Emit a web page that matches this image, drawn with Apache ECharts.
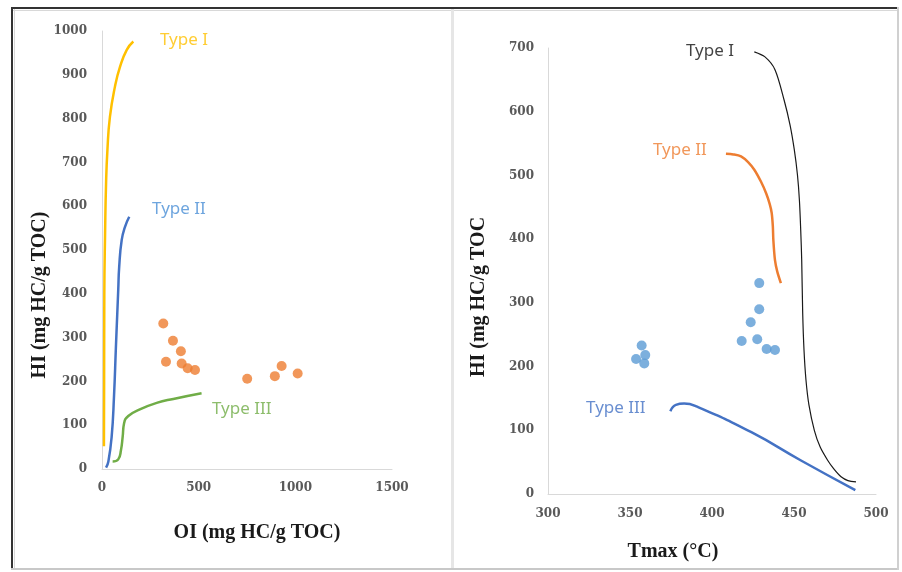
<!DOCTYPE html>
<html>
<head>
<meta charset="utf-8">
<script src="https://cdn.jsdelivr.net/npm/echarts@6/dist/echarts.min.js"></script>
<style>html,body{margin:0;padding:0;background:#fff}#c{width:902px;height:572px}</style>
</head>
<body>
<div id="c"></div>
<script>
// ---- Left panel: HI vs OI ----
const oiTicks = [0, 500, 1000, 1500];
const hiTicksLeft = [0, 100, 200, 300, 400, 500, 600, 700, 800, 900, 1000];
const oiTypeI = [[10,52],[11,200],[12,400],[16,538],[21,652],[28,728],[41,804],[67,873],[93,918],[128,957],[162,976]];
const oiTypeII = [[21,3],[33,17],[50,74],[62,165],[72,279],[79,355],[84,409],[89,462],[102,523],[119,553],[141,576]];
const oiTypeIII = [[55,17],[84,22],[98,43],[107,74],[114,104],[136,121],[196,136],[283,151],[369,160],[515,173]];
const sampleOI = [317,331,367,408,412,443,481,751,894,929,1012];
const sampleHIleft = [332,245,293,269,241,230,226,206,212,235,218];
const labelsLeft = [[300,979,'Type I'],[259,594,'Type II'],[569,137,'Type III']];

// ---- Right panel: HI vs Tmax ----
const tmaxTicks = [300, 350, 400, 450, 500];
const hiTicksRight = [0, 100, 200, 300, 400, 500, 600, 700];
const tmaxTypeI = [[425.8,694],[432.3,686],[438.4,666],[444,618],[447.6,579],[450.2,540],[452.1,501],[453.3,461],[454.1,414],[454.7,367],[455.3,284],[456.1,226],[457.3,179],[459.1,140],[462.4,100],[465.9,74],[470.5,53],[474.4,39],[478.7,27],[482.9,21],[487.8,19]];
const tmaxTypeII = [[408.5,534],[413,533],[417.7,530],[422,521],[425.8,509],[429.9,490],[433,472],[435.2,455],[436.4,441],[437.1,420],[437.4,399],[438.4,367],[439.8,349],[442,331]];
const tmaxTypeIII = [[374.6,130],[378,140],[383,142],[391,137],[424,97],[454,53],[487.4,6]];
const sampleTmax = [357.1,353.7,359.3,358.7,428.8,428.8,423.6,418.1,427.6,433.3,438.4];
const sampleHIright = [233,212,218,205,331,290,269.5,240,243,227.5,226];
const labelsRight = [[384.1,695,'Type I'],[364,540,'Type II'],[323.2,135,'Type III']];

const tickFont = {fontFamily:'DejaVu Serif', fontWeight:'bold', fontSize:12, color:'#595959',
  formatter:function(v){return String(v);}};
const nameFont = {fontFamily:'Liberation Serif', fontWeight:'bold', fontSize:20, fill:'#1a1a1a'};
const axisLine = {show:true, lineStyle:{color:'#d9d9d9', width:1}};

function zip(a,b){ return a.map((v,i)=>[v,b[i]]); }

function labelSeries(xi, labels, colors){
  return {
    type:'scatter', xAxisIndex:xi, yAxisIndex:xi, symbolSize:0, silent:true, z:5,
    data: labels.map((l,i)=>({value:[l[0],l[1]], name:l[2],
      label:{show:true, position:'right', distance:0, formatter:l[2], color:colors[i],
        fontFamily:'Noto Sans', fontSize:17}}))
  };
}

function curve(xi, data, color, width, sm){
  return {type:'line', xAxisIndex:xi, yAxisIndex:xi, data:data, smooth:sm,
    showSymbol:false, symbol:'none', lineStyle:{color:color, width:width}};
}

const chart = echarts.init(document.getElementById('c'), null, {renderer:'canvas'});
chart.setOption({
  animation:false,
  backgroundColor:'#fff',
  grid:[
    {left:102, top:31, width:290, height:438},
    {left:548, top:48, width:328, height:446}
  ],
  xAxis:[
    {gridIndex:0, type:'value', min:oiTicks[0], max:oiTicks[oiTicks.length-1], interval:500,
      axisLine:axisLine, axisTick:{show:false}, splitLine:{show:false},
      axisLabel:Object.assign({margin:13}, tickFont)},
    {gridIndex:1, type:'value', min:tmaxTicks[0], max:tmaxTicks[tmaxTicks.length-1], interval:50,
      axisLine:axisLine, axisTick:{show:false}, splitLine:{show:false},
      axisLabel:Object.assign({margin:14}, tickFont)}
  ],
  yAxis:[
    {gridIndex:0, type:'value', min:hiTicksLeft[0], max:hiTicksLeft[hiTicksLeft.length-1], interval:100,
      axisLine:axisLine, axisTick:{show:false}, splitLine:{show:false},
      axisLabel:Object.assign({margin:15}, tickFont)},
    {gridIndex:1, type:'value', min:hiTicksRight[0], max:hiTicksRight[hiTicksRight.length-1], interval:100,
      axisLine:axisLine, axisTick:{show:false}, splitLine:{show:false},
      axisLabel:Object.assign({margin:14}, tickFont)}
  ],
  series:[
    curve(0, oiTypeI, '#FFC000', 2.5, true),
    curve(0, oiTypeII, '#4472C4', 2.5, true),
    curve(0, oiTypeIII, '#70AD47', 2.5, true),
    {type:'scatter', xAxisIndex:0, yAxisIndex:0, data:zip(sampleOI, sampleHIleft), symbolSize:10,
      itemStyle:{color:'#ED7D31'}},
    labelSeries(0, labelsLeft, ['#FFC000','#4A8FD6','#70AD47']),

    curve(1, tmaxTypeI, '#1a1a1a', 1.2, 0.3),
    curve(1, tmaxTypeII, '#ED7D31', 2.5, 0.3),
    curve(1, tmaxTypeIII, '#4472C4', 2.5, true),
    {type:'scatter', xAxisIndex:1, yAxisIndex:1, data:zip(sampleTmax, sampleHIright), symbolSize:10,
      itemStyle:{color:'#5B9BD5'}},
    labelSeries(1, labelsRight, ['#111111','#ED7D31','#4472C4'])
  ],
  graphic:[
    // frame
    {type:'line', shape:{x1:11, y1:8, x2:899, y2:8}, style:{stroke:'#333', lineWidth:2}},
    {type:'line', shape:{x1:11, y1:10.5, x2:899, y2:10.5}, style:{stroke:'#d8d8d8', lineWidth:1}},
    {type:'line', shape:{x1:12, y1:7, x2:12, y2:570}, style:{stroke:'#333', lineWidth:2}},
    {type:'line', shape:{x1:14.5, y1:9, x2:14.5, y2:569}, style:{stroke:'#d8d8d8', lineWidth:1}},
    {type:'line', shape:{x1:11, y1:569, x2:899, y2:569}, style:{stroke:'#c8c8c8', lineWidth:2}},
    {type:'line', shape:{x1:898, y1:7, x2:898, y2:570}, style:{stroke:'#d0d0d0', lineWidth:2}},
    {type:'line', shape:{x1:452.5, y1:9, x2:452.5, y2:568}, style:{stroke:'#e6e6e6', lineWidth:3}},
    // axis names
    {type:'text', x:257, y:533, style:Object.assign({text:'OI (mg HC/g TOC)', align:'center', verticalAlign:'middle'}, nameFont)},
    {type:'text', x:40, y:295, rotation:Math.PI/2, style:Object.assign({text:'HI (mg HC/g TOC)', align:'center', verticalAlign:'middle'}, nameFont)},
    {type:'text', x:673, y:552, style:Object.assign({text:'Tmax (°C)', align:'center', verticalAlign:'middle'}, nameFont)},
    {type:'text', x:479, y:297, rotation:Math.PI/2, style:Object.assign({text:'HI (mg HC/g TOC', align:'center', verticalAlign:'middle'}, nameFont)}
  ]
});
</script>
</body>
</html>
